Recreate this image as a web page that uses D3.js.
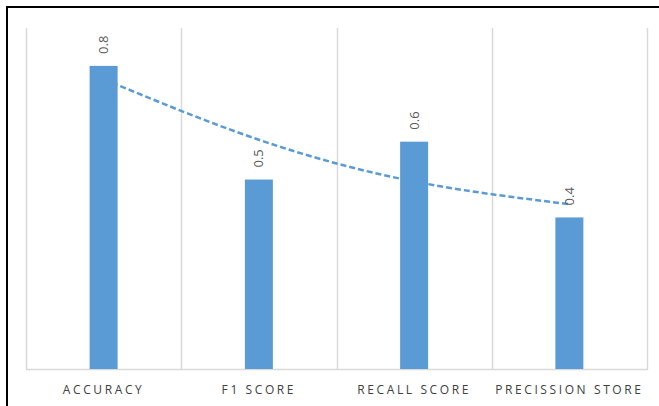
<!DOCTYPE html>
<html>
<head>
<meta charset="utf-8">
<script src="https://cdn.jsdelivr.net/npm/d3@7"></script>
<style>
  body { margin: 0; background: #fff; }
  .cat-label { font-family: "Open Sans", sans-serif; font-size: 12px; fill: #404040; letter-spacing: 2.6px; }
  .val-label { font-family: "Open Sans", sans-serif; font-size: 13px; fill: #595959; }
</style>
</head>
<body>
<div class="chart"></div>
<script>
var categories = ["ACCURACY", "F1 SCORE", "RECALL SCORE", "PRECISSION STORE"];
var scores = [0.8, 0.5, 0.6, 0.4];
// polynomial trendline values read at each category
var trend = [0.765, 0.605, 0.495, 0.435];

function init() {
  var w = 659;
  var h = 406;
  var left = 26, right = 647, top = 28, bottom = 369;

  var svg = d3.select(".chart")
    .append("svg")
    .attr("width", w)
    .attr("height", h);

  // outer frame: top and left edges
  svg.append("path")
    .attr("d", "M7,406 L7,7 L659,7")
    .attr("fill", "none")
    .attr("stroke", "#000")
    .attr("stroke-width", 2);

  var xScale = d3.scaleBand()
    .domain(categories)
    .range([left, right])
    .paddingInner(0)
    .paddingOuter(0);

  var yScale = d3.scaleLinear()
    .domain([0, 0.9])
    .range([bottom, top]);

  var barW = 28;

  // vertical category separators
  var edges = categories.map(function(d) { return xScale(d); }).concat([right]);
  svg.selectAll(".grid")
    .data(edges)
    .enter()
    .append("line")
    .attr("x1", function(d) { return Math.round(d) + 0.5; })
    .attr("x2", function(d) { return Math.round(d) + 0.5; })
    .attr("y1", top)
    .attr("y2", bottom)
    .attr("stroke", "#d9d9d9")
    .attr("stroke-width", 1.5);

  // baseline
  svg.append("line")
    .attr("x1", left)
    .attr("x2", right + 1)
    .attr("y1", bottom + 0.5)
    .attr("y2", bottom + 0.5)
    .attr("stroke", "#d9d9d9")
    .attr("stroke-width", 1.5);

  // trendline (drawn under the bars)
  var line = d3.line()
    .x(function(d, i) { return xScale(categories[i]) + xScale.bandwidth() / 2; })
    .y(function(d) { return yScale(d); })
    .curve(d3.curveNatural);

  svg.append("path")
    .datum(trend)
    .attr("d", line)
    .attr("fill", "none")
    .attr("stroke", "#5b9bd5")
    .attr("stroke-width", 2.5)
    .attr("stroke-dasharray", "6,3");

  svg.selectAll(".bar")
    .data(scores)
    .enter()
    .append("rect")
    .attr("class", "bar")
    .attr("x", function(d, i) { return xScale(categories[i]) + xScale.bandwidth() / 2 - barW / 2; })
    .attr("y", function(d) { return yScale(d); })
    .attr("width", barW)
    .attr("height", function(d) { return bottom - yScale(d); })
    .attr("fill", "#5b9bd5");

  // rotated value labels
  svg.selectAll(".val-label")
    .data(scores)
    .enter()
    .append("text")
    .attr("class", "val-label")
    .attr("transform", function(d, i) {
      var cx = xScale(categories[i]) + xScale.bandwidth() / 2;
      return "translate(" + (cx + 4.5) + "," + (yScale(d) - 12) + ") rotate(-90)";
    })
    .attr("text-anchor", "start")
    .text(function(d) { return d; });

  // category labels
  svg.selectAll(".cat-label")
    .data(categories)
    .enter()
    .append("text")
    .attr("class", "cat-label")
    .attr("x", function(d) { return xScale(d) + xScale.bandwidth() / 2; })
    .attr("y", 394)
    .attr("text-anchor", "middle")
    .text(function(d) { return d; });
}

window.onload = init;
</script>
</body>
</html>
